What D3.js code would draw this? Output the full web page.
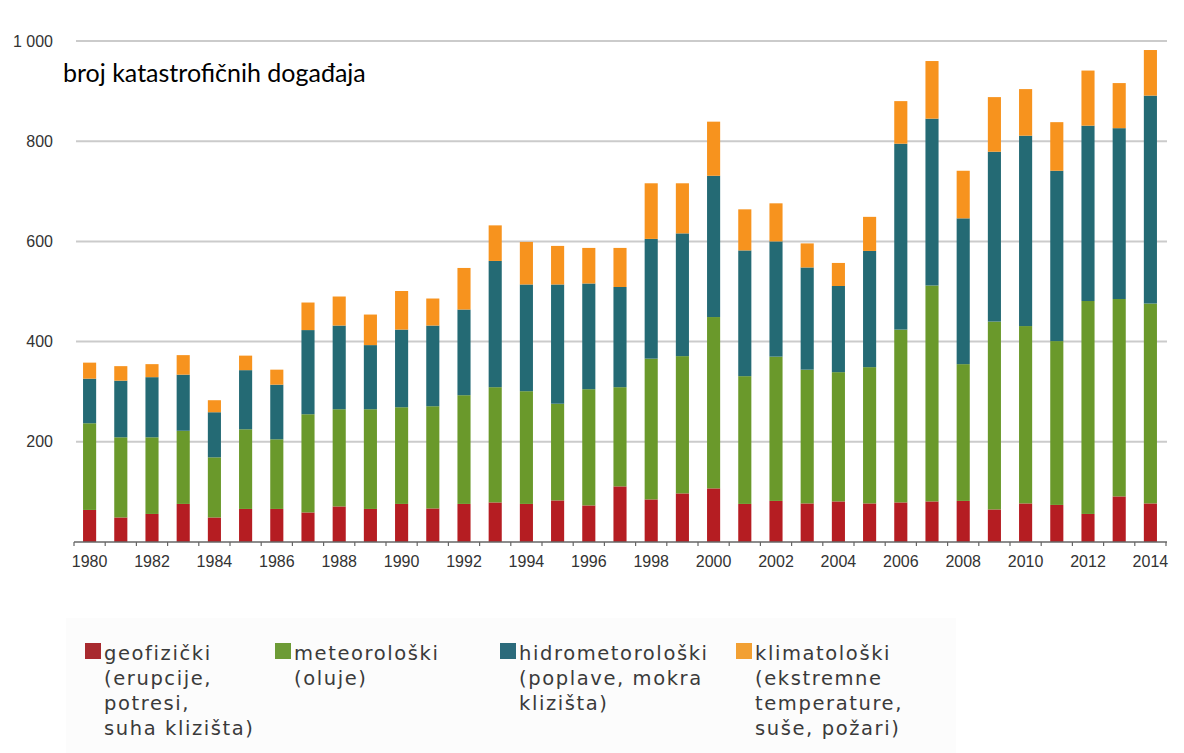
<!DOCTYPE html>
<html>
<head>
<meta charset="utf-8">
<style>
  body { margin: 0; background: #fff; }
  svg { display: block; }
</style>
</head>
<body>
<div id="chart"></div>
<script src="https://d3js.org/d3.v7.min.js"></script>
<script>
// broj katastrofičnih događaja po godinama, 1980-2014
const years = d3.range(1980, 2015);
const geo   = [64, 49, 56, 76, 49, 66, 66, 59, 71, 66, 76, 67, 76, 79, 76, 83, 73, 111, 85, 97, 107, 76, 82, 77, 81, 77, 79, 81, 82, 65, 77, 74, 56, 91, 77];
const meteo = [173, 160, 153, 146, 120, 159, 139, 196, 194, 199, 193, 204, 217, 230, 225, 193, 232, 198, 281, 274, 342, 255, 288, 267, 258, 272, 345, 431, 273, 375, 354, 327, 425, 394, 399];
const hydro = [89, 113, 120, 112, 90, 118, 109, 168, 167, 128, 155, 161, 171, 252, 213, 238, 211, 200, 239, 245, 282, 251, 230, 204, 172, 232, 371, 333, 291, 339, 380, 340, 350, 341, 415];
const clim  = [32, 29, 26, 39, 24, 29, 30, 55, 58, 61, 77, 54, 83, 71, 85, 77, 71, 78, 111, 100, 108, 82, 76, 48, 46, 68, 85, 115, 95, 109, 93, 97, 110, 90, 91];

const seriesKeys = ["geo", "meteo", "hydro", "clim"];
const colors = ["#b51d22", "#6a992b", "#246a74", "#f7931e"];
const legendColors = ["#a82a2f", "#6d9b36", "#2b6a7b", "#f2a033"];
const legendLabels = [
  ["geofizički", "(erupcije,", "potresi,", "suha klizišta)"],
  ["meteorološki", "(oluje)"],
  ["hidrometorološki", "(poplave, mokra", "klizišta)"],
  ["klimatološki", "(ekstremne", "temperature,", "suše, požari)"]
];
const yTicks = [200, 400, 600, 800, 1000];
const xLabelYears = years.filter(y => y % 2 === 0);

const rows = years.map((y, i) => ({
  year: y, geo: geo[i], meteo: meteo[i], hydro: hydro[i], clim: clim[i]
}));

const width = 1184, height = 753;

const svg = d3.select("#chart").append("svg")
  .attr("width", width)
  .attr("height", height);

svg.append("rect").attr("width", width).attr("height", height).attr("fill", "#fff");

const x = d3.scaleBand()
  .domain(years)
  .range([74, 1166])
  .paddingInner(0.58)
  .paddingOuter(0.29);

const y = d3.scaleLinear()
  .domain([0, 1000])
  .range([542, 41]);

// gridlines
svg.append("g")
  .selectAll("line")
  .data(yTicks)
  .join("line")
  .attr("x1", 76)
  .attr("x2", 1167)
  .attr("y1", d => y(d))
  .attr("y2", d => y(d))
  .attr("stroke", "#cbcbcb")
  .attr("stroke-width", 2);

// y labels
svg.append("g")
  .selectAll("text")
  .data(yTicks)
  .join("text")
  .attr("x", 53)
  .attr("y", d => y(d))
  .attr("dy", "0.35em")
  .attr("text-anchor", "end")
  .attr("font-family", "Liberation Sans, Arial, sans-serif")
  .attr("font-size", 16)
  .attr("fill", "#333")
  .text(d => d3.format(",")(d).replace(",", " "));

// stacked bars
const stack = d3.stack().keys(seriesKeys)(rows);

svg.append("g")
  .selectAll("g")
  .data(stack)
  .join("g")
  .attr("fill", (d, i) => colors[i])
  .selectAll("rect")
  .data(d => d)
  .join("rect")
  .attr("x", d => x(d.data.year))
  .attr("width", x.bandwidth())
  .attr("y", d => y(d[1]))
  .attr("height", d => y(d[0]) - y(d[1]));

// x axis
const xAxis = svg.append("g")
  .attr("transform", `translate(0, ${y(0)})`)
  .call(d3.axisBottom(x).tickValues(xLabelYears).tickSize(0).tickPadding(14));

xAxis.select(".domain")
  .attr("stroke", "#666")
  .attr("stroke-width", 1.5)
  .attr("d", "M74,0H1167");

xAxis.selectAll("text")
  .attr("font-family", "Liberation Sans, Arial, sans-serif")
  .attr("font-size", 16)
  .attr("fill", "#333");

// small ticks between the years
const step = x.step();
xAxis.append("g")
  .selectAll("line")
  .data(years.concat([2015]))
  .join("line")
  .attr("x1", d => d === 2015 ? 1166 : x(d) - x.paddingInner() * step / 2)
  .attr("x2", d => d === 2015 ? 1166 : x(d) - x.paddingInner() * step / 2)
  .attr("y1", 0)
  .attr("y2", 4)
  .attr("stroke", "#666")
  .attr("stroke-width", 1.2);

// title
svg.append("text")
  .attr("x", 63)
  .attr("y", 82)
  .attr("font-family", "Lato, sans-serif")
  .attr("font-size", 25)
  .attr("fill", "#000")
  .text("broj katastrofičnih događaja");

// legend
svg.append("rect")
  .attr("x", 66)
  .attr("y", 618)
  .attr("width", 890)
  .attr("height", 135)
  .attr("fill", "#fcfcfc");

const legendX = [85, 275, 500, 736];
const legend = svg.append("g")
  .selectAll("g")
  .data(legendLabels)
  .join("g")
  .attr("transform", (d, i) => `translate(${legendX[i]}, 0)`);

legend.append("rect")
  .attr("x", 0)
  .attr("y", 643)
  .attr("width", 16)
  .attr("height", 16)
  .attr("fill", (d, i) => legendColors[i]);

// one text per line so the lines stay separate
legend.selectAll("text")
  .data(d => d)
  .join("text")
  .attr("x", 19)
  .attr("y", (d, i) => 660 + i * 25)
  .attr("font-family", "DejaVu Sans, Verdana, sans-serif")
  .attr("font-size", 19.5)
  .attr("letter-spacing", 1.6)
  .attr("fill", "#3a3a3a")
  .text(d => d);
</script>
</body>
</html>
